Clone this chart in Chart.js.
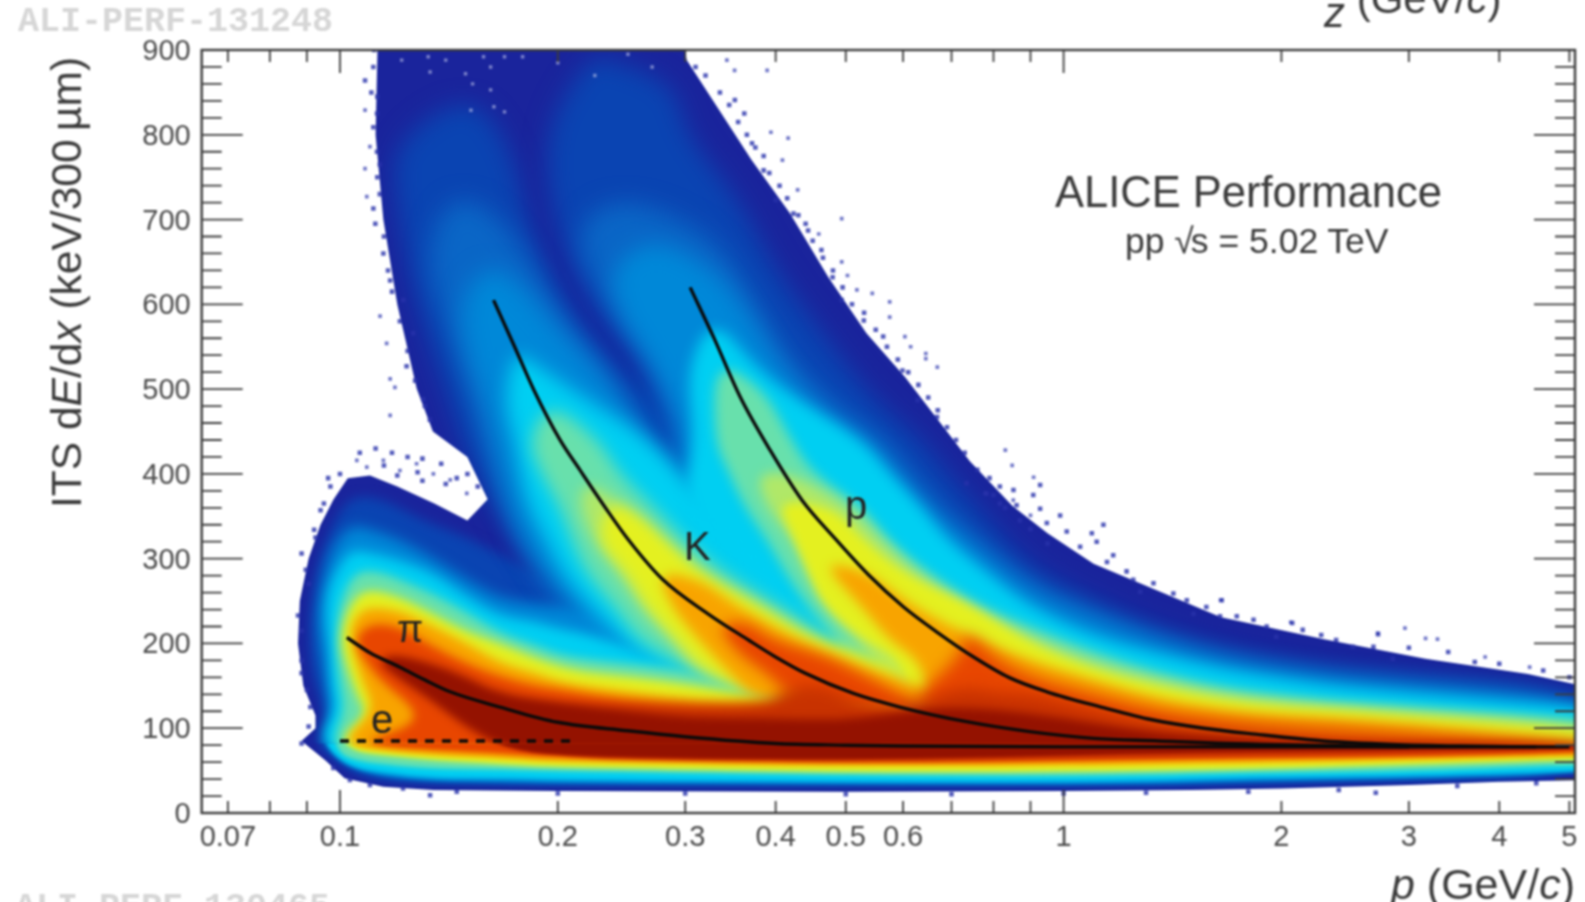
<!DOCTYPE html>
<html><head><meta charset="utf-8">
<style>
html,body{margin:0;padding:0;background:#fff;width:1585px;height:902px;overflow:hidden}
#wrap{position:relative;width:1585px;height:902px;overflow:hidden}
canvas{position:absolute;left:0;top:0;filter:blur(0.8px)}
.t{position:absolute;white-space:nowrap;font-family:"Liberation Sans",Arial,sans-serif;color:#3a3a3a;filter:blur(0.8px);line-height:1}
.m{font-family:"Liberation Mono",monospace;font-weight:bold;color:#d6d6d6;filter:blur(1px)}
</style>
<script src="https://cdn.jsdelivr.net/npm/chart.js@4"></script>
</head><body><div id="wrap">
<canvas id="c" width="1585" height="902"></canvas>
<div class="t m" style="left:18px;top:5px;font-size:35px">ALI-PERF-131248</div>
<div class="t m" style="left:15px;top:891px;font-size:35px">ALI-PERF-130465</div>
<div class="t" style="left:1324px;top:-22px;font-size:42px"><i style="text-decoration:overline;font-size:42px;position:relative;top:14px">z</i>&nbsp;(GeV/<i>c</i>)</div>
<div class="t" style="left:1055px;top:171px;font-size:43.5px">ALICE Performance</div>
<div class="t" style="left:1125px;top:224px;font-size:35.5px">pp <span style="letter-spacing:-3px">&radic;</span>s = 5.02 TeV</div>
<div class="t" style="left:46px;top:508px;font-size:42.5px;transform-origin:0 0;transform:rotate(-90deg)">ITS d<i>E</i>/d<i>x</i> (keV/300&#8201;&micro;m)</div>
<div class="t" style="right:10px;top:863px;font-size:43px"><i>p</i> (GeV/<i>c</i>)</div>
<div class="t" style="left:397px;top:610px;font-size:38px;color:#222">&pi;</div>
<div class="t" style="left:684px;top:526px;font-size:40px;color:#222">K</div>
<div class="t" style="left:845px;top:485px;font-size:40px;color:#222">p</div>
<div class="t" style="left:371px;top:699px;font-size:40px;color:#222">e</div>
</div>
<script>
// axis ticks
const xTickValues=[0.07,0.08,0.09,0.1,0.2,0.3,0.4,0.5,0.6,0.7,0.8,0.9,1,2,3,4,5];
const xTickLabels=['0.07','0.1','0.2','0.3','0.4','0.5','0.6','1','2','3','4','5'];
const xMajorTicks=[0.1,1];
const yMajorTicks=[0,100,200,300,400,500,600,700,800,900];
const yMinorTicks=[20,40,60,80,120,140,160,180,220,240,260,280,320,340,360,380,420,440,460,480,520,540,560,580,620,640,660,680,720,740,760,780,820,840,860,880];

// expected-response curves [p, dE/dx]
const curvePion=[[.1022,207],[.11,189],[.121,172],[.131,157],[.142,143],[.1664,125],[.2,107],[.25,97],[.3,90],[.4,82],[.5,80],[.6,79],[1,78],[2,78],[5,78]];
const curveKaon=[[.163,605],[.1743,550],[.1853,499],[.2014,440],[.2144,405],[.2323,361],[.2505,322],[.2788,276],[.3225,235],[.3669,204],[.3983,185],[.4393,165],[.5125,141],[.594,125],[.731,108],[.898,96],[1.1,88],[1.35,85],[1.67,82],[3,78]];
const curveProton=[[.3047,620],[.3284,561],[.3572,491],[.393,428],[.435,369],[.4806,326],[.5374,281],[.601,243],[.672,212],[.751,184],[.84,160],[.948,143],[1.127,125],[1.325,110],[1.563,100],[1.84,93],[2.29,85],[2.84,81],[3.53,79],[4.5,78]];
const lineElectron=[[.1,85],[.21,85]];

// population contours [p, dE/dx]
const envelope=[[.0885,85],[.0955,62],[.1015,41],[.1148,31],[.1346,27],[.2,26],[.5,25],[1,26],[1.5,27],[2,29],[3,33],[4,37],[5.5,39],[5.5,148],[5.09,152],[4.38,164],[3.16,182],[2.29,205],[1.65,231],[1.1,294],[.95,330],[.85,362],[.742,415],[.604,514],[.534,566],[.473,632],[.4188,707],[.3707,770],[.3015,888],[.29,950],[.113,950],[.112,800],[.1148,700],[.12,600],[.1277,500],[.1344,450],[.15,420],[.16,370],[.15,345],[.135,365],[.12,385],[.11,398],[.1025,395],[.098,370],[.094,340],[.0905,300],[.088,250],[.0875,200],[.089,150],[.0925,115],[.0925,100]];
const piBlue=[[.0925,82],[.098,62],[.105,45],[.115,37],[.135,33],[.2,31],[.5,31],[1.2,31],[1.84,33],[2.84,37],[5.5,43],[5.5,90],[1,130],[.5,150],[.25,230],[.17,300],[.15,325],[.13,345],[.115,370],[.104,375],[.098,345],[.093,290],[.091,230],[.091,170],[.0945,130],[.096,100]];
const kBlue=[[.15,850],[.1185,790],[.1195,723],[.1241,644],[.1315,566],[.1415,487],[.1485,428],[.16,380],[.18,300],[.25,150],[.33,150],[.33,440],[.2425,526],[.2109,585],[.1832,684],[.172,790]];
const pBlue=[[.22,890],[.2337,890],[.29,860],[.3,801],[.3565,723],[.397,644],[.4627,566],[.5467,487],[.6366,440],[.6902,401],[.7586,361],[.898,290],[1.1,251],[1.35,216],[1.67,192],[2.05,177],[2.52,165],[5.5,137],[5.5,78],[1,100],[.45,150],[.32,300],[.27,440],[.2623,526],[.228,585],[.1981,684],[.1905,801]];
const kMid=[[.149,731],[.1361,703],[.1319,644],[.142,566],[.1527,487],[.1597,428],[.17,361],[.1795,322],[.191,283],[.2098,243],[.25,160],[.36,160],[.345,340],[.31,389],[.275,428],[.2562,456],[.2314,526],[.2012,585],[.1748,684]];
const pMid=[[.2433,731],[.3283,684],[.3747,605],[.424,526],[.5,470],[.5618,440],[.6105,401],[.6665,361],[.731,325],[.898,262],[1.1,230],[1.35,202],[1.67,180],[2.05,167],[2.52,156],[5.5,130],[5.5,78],[1,100],[.45,150],[.33,330],[.30,389],[.295,428],[.2944,456],[.275,526],[.239,585],[.2076,684]];
const piSky=[[.0955,85],[.1,62],[.107,49],[.117,42],[.135,37],[.17,36],[.2,35],[.5,34],[1.2,34],[1.84,37],[2.84,40],[5.5,46],[5.5,95],[1,130],[.5,150],[.25,220],[.21,243],[.19,245],[.1664,252],[.1497,275],[.1346,300],[.121,322],[.11,335],[.1032,340],[.097,310],[.0945,270],[.093,232],[.094,192],[.096,153],[.0975,115]];
const kSky=[[.16,650],[.146,600],[.15,540],[.158,487],[.1645,428],[.172,361],[.1795,322],[.191,283],[.2098,243],[.25,160],[.36,160],[.345,340],[.31,389],[.275,428],[.262,456],[.225,526],[.2,570],[.18,620]];
const pSky=[[.27,680],[.33,640],[.365,590],[.405,526],[.47,470],[.54,440],[.59,401],[.65,361],[.731,325],[.898,262],[1.1,230],[1.35,202],[1.67,180],[2.05,167],[2.52,156],[5.5,130],[5.5,78],[1,100],[.45,150],[.33,330],[.30,389],[.295,428],[.295,456],[.272,526],[.245,585],[.235,640]];
const piCyan=[[.094,92],[.0985,121],[.097,153],[.097,192],[.0955,232],[.0965,270],[.103,310],[.109,308],[.121,298],[.1346,283],[.1497,255],[.1664,232],[.1845,226],[.2046,216],[.2268,208],[.2515,194],[.29,175],[.4,150],[1,130],[5.5,100],[5.5,48],[5.09,49],[2.84,43],[1.84,42],[1.2,37],[.5,37],[.2,39],[.17,41],[.135,41],[.115,47],[.105,53],[.098,67]];
const kCyan=[[.1743,546],[.1685,487],[.1745,440],[.1774,401],[.1825,361],[.1928,322],[.2028,283],[.2215,243],[.2435,208],[.2515,194],[.3,150],[.47,130],[.47,240],[.42,283],[.36,340],[.312,375],[.2682,440],[.22,487],[.1855,530]];
const pCyan=[[.3283,585],[.3013,526],[.3091,440],[.298,375],[.32,340],[.37,283],[.41,240],[.45,130],[1,100],[5.5,78],[5.5,122],[5.09,125],[2.52,147],[2.05,157],[1.67,169],[1.35,188],[1.1,208],[.898,243],[.7844,283],[.6902,322],[.6361,361],[.5742,401],[.5267,440],[.4294,487],[.3747,526]];
const piGreen=[[.098,90],[.1015,121],[.1,153],[.0985,200],[.1,250],[.105,285],[.113,285],[.121,275],[.1346,258],[.1497,236],[.1664,212],[.186,198],[.2046,184],[.2515,176],[.3,167],[.4,150],[1,130],[5.5,95],[5.5,56],[5.09,56.6],[2.84,49],[1.84,48],[1.2,44],[.6,44],[.2,49],[.17,51],[.135,52],[.115,57],[.105,62],[.1,70]];
const kGreen=[[.195,485],[.182,440],[.1895,401],[.2016,361],[.209,322],[.219,283],[.2403,243],[.2588,204],[.289,180],[.33,150],[.5,130],[.505,176],[.478,204],[.408,243],[.34,283],[.3,322],[.272,361],[.2425,401],[.228,440]];
const pGreen=[[.33,535],[.329,440],[.345,401],[.3625,361],[.39,322],[.413,283],[.444,243],[.484,204],[.49,176],[.5,130],[1,105],[5.5,78],[5.5,108],[5.09,110],[2.52,129],[2.05,137],[1.67,147],[1.35,165],[1.1,190],[.898,220],[.775,243],[.65,283],[.573,322],[.528,361],[.45,401],[.42,440],[.385,500]];
const kLime=[[.2171,393],[.2144,361],[.2238,322],[.2436,283],[.2615,243],[.2884,204],[.31,170],[.4,135],[.55,130],[.53,180],[.4478,204],[.3762,243],[.3125,283],[.2738,322],[.2515,361]];
const pLime=[[.3762,401],[.3883,361],[.4235,322],[.4436,283],[.4716,243],[.5154,204],[.55,180],[.6,130],[1,105],[5.5,78],[5.5,104],[2.52,125],[2.05,131],[1.67,140],[1.35,157],[1.1,178],[.898,208],[.7394,243],[.6266,283],[.5577,322],[.5068,361],[.4213,401]];
const piYellow=[[.1,88],[.1089,117],[.1057,137],[.1022,172],[.1,208],[.1032,247],[.1089,265],[.121,255],[.1346,235],[.1497,214],[.1664,200],[.2046,169],[.2515,161],[.3091,151],[.38,137],[1,110],[5.5,90],[5.5,62],[5.09,62.5],[2.84,56],[1.67,51],[.6,47],[.2,54],[.17,57],[.135,62],[.115,68],[.105,72]];
const kYellow=[[.236,368],[.2265,322],[.25,283],[.265,243],[.2925,204],[.32,165],[.4,135],[.62,125],[.6,165],[.538,185],[.45,204],[.383,243],[.315,283],[.282,322],[.26,350]];
const pYellow=[[.4,370],[.4257,322],[.444,283],[.467,243],[.53,204],[.58,185],[.6,165],[.62,125],[1,110],[5.5,78],[5.5,96],[5.09,98],[2.52,120],[2.05,125],[1.67,133],[1.35,149],[1.1,169],[.898,200],[.745,245],[.606,280],[.528,322],[.48,361]];
const piOrange=[[.102,89],[.112,121],[.1066,161],[.1032,208],[.1045,228],[.1089,243],[.121,239],[.1346,220],[.1497,200],[.1664,177],[.186,165],[.2046,153],[.2515,143],[.3091,133],[.38,129],[.6,120],[1,105],[5.5,85],[5.5,67],[5.09,68],[2.84,62],[1.67,58.6],[.6,54],[.2,60],[.17,64],[.135,68],[.115,73],[.105,78]];
const kOrange=[[.275,285],[.287,243],[.313,204],[.345,165],[.38,130],[.7,120],[.65,145],[.56,165],[.485,185],[.43,204],[.355,243],[.315,275]];
const pOrange=[[.4772,295],[.4772,283],[.5263,243],[.5742,204],[.6193,185],[.6405,165],[.65,140],[.7,120],[1.2,100],[5.5,78],[5.5,84],[5.09,86],[2.52,110],[2.05,114],[1.67,121],[1.35,135],[1.1,157],[.898,180],[.7617,204],[.6193,243],[.5397,283]];
const piRed=[[.108,84],[.125,102],[.1276,121],[.1148,153],[.1089,176],[.1045,204],[.11,224],[.121,220],[.1346,196],[.1497,176],[.1664,161],[.186,150],[.2046,145],[.2515,131],[.3091,124],[.38,120],[.449,120],[.8,108],[1.5,95],[5.5,82],[5.5,72],[5.09,72],[2.84,66],[1.67,64.5],[.6,59],[.2,65],[.17,70],[.135,74],[.115,78]];
const kRed=[[.335,222],[.343,204],[.36,184],[.388,165],[.41,145],[.45,125],[.66,118],[.62,133],[.525,165],[.47,185],[.395,204],[.365,226]];
const pRed=[[.72,210],[.731,196],[.68,165],[.62,135],[.66,118],[.8,105],[1.5,90],[5.5,78],[5.5,80],[5.09,80],[2.52,100],[2.05,104],[1.67,110],[1.35,121],[1.1,141],[.898,161],[.8,185],[.76,204]];
const piDeep=[[.2,130],[.38,124],[.42,150],[.467,150],[.52,130],[.6,124],[.659,137],[.731,149],[.81,141],[.898,141],[1.1,121],[1.35,106],[1.67,96],[2.05,90],[2.52,84],[5.5,80],[5.5,74],[2.52,68],[1.2,65],[.6,60],[.3,62],[.2,66],[.15,100]];
const piDark=[[.113,178],[.118,188],[.1346,176],[.1497,160],[.1664,141],[.2046,129],[.2515,120],[.3091,112],[.38,112],[.467,110],[.518,112],[.6366,122],[.731,125],[.898,118],[1.1,106],[1.35,94],[1.67,88],[2.05,84],[2.52,80],[5.5,79],[5.5,76],[2.52,73],[1.35,71],[.6,63],[.3,64],[.2,68],[.17,75],[.15,100],[.135,130],[.12,160]];

// sparse entries at the fuzzy edge of the population
const strayEntries=[[.3893,876],[.3425,888],[.351,876],[.394,803],[.4162,796],[.4087,770],[.429,735],[.4936,701],[.4588,683],[.4936,650],[.5027,634],[.518,617],[.544,613],[.575,603],[.575,585],[.6035,562],[.6146,550],[.645,542],[.645,536],[.669,526],[.1083,829],[.11,786],[.1083,760],[.1089,727],[.1136,586],[.116,554],[.1173,512],[.1191,502],[.1173,469],[.1055,416],[.1089,408],[.1148,416],[.121,404],[.1276,412],[.1346,400],[.142,393],[.1497,377],[1.648,251],[2.06,225],[2.717,212],[2.963,218],[3.164,206],[3.286,205],[3.824,184],[4.406,172],[.8307,428],[.849,410],[.909,396],[.7794,377],[.852,369],[.9,351]];
const edgeEntries=[[.7345,389],[.7826,377],[.8164,385],[.8525,381],[.908,375],[.928,387],[.8164,365],[.861,363],[.928,359],[.989,351],[.948,342],[1.01,332],[1.094,330],[1.135,340],[1.054,314],[1.111,320],[1.171,304],[1.148,296],[1.222,285],[1.248,275],[1.331,271],[1.276,261],[1.418,259],[1.48,251],[1.575,243],[1.654,251],[1.512,235],[1.645,232],[1.735,232],[1.83,228],[1.908,220],[2.07,224],[1.967,208],[2.14,216],[2.27,210],[2.38,204],[2.51,196],[2.72,211],[2.68,196],[2.85,182],
[.3513,841],[.362,825],[.371,790],[.385,758],[.4,723],[.4233,707],[.4435,687],[.4627,664],[.4795,632],[.4936,605],[.5295,581],[.5632,562],[.5988,522],[.6285,487],[.6684,467],
[.1112,880],[.1083,864],[.1126,845],[.1112,809],[.1126,750],[.1112,713],[.1119,695],[.1148,660],[.1173,628],[.1223,605],[.1262,566],[.1236,527],[.1303,488],[.1331,464],
[.0963,395],[.094,357],[.0921,334],[.0885,306],[.0897,287],[.0875,233],[.0885,180],[.09,145],[.0905,102],[.0885,82],[.0979,53],[.1032,39],[.11,33],[.1222,29],[.1332,21],[.145,25],
[.2,23],[.3,23],[.5,22],[.7,22],[1,23],[1.3,24],[1.8,25],[2.4,27],[2.7,24],[3.5,32],[4.5,35],
[.1065,425],[.112,430],[.118,425],[.124,420],[.13,418],[.138,412],[.145,395],[.14,388],[.13,392],[.12,398],[.128,402],[.115,410],[.155,385],[.15,400],
[.31,880],[.32,870],[.335,850],[.345,835],[.355,815],[.365,800],[.375,785],[.385,775],[.392,755],[.405,740],[.415,725],[.43,705],[.44,695],[.45,675],[.465,655],[.48,640],[.495,620],[.51,600],[.53,590],[.55,570],[.57,550],[.59,535],[.61,520],[.63,505],[.65,490],[.67,475],[.69,455],[.71,440],[.73,425],[.76,405],[.79,395],[.8,375],[.83,360],[.87,345],[.9,335],[.95,318],
[.1115,900],[.1105,850],[.1125,780],[.1135,730],[.115,680],[.1165,640],[.118,615],[.121,580],[.124,545],[.127,510],[.131,480],[.1135,765],[.1125,825],
[.1,400],[.097,385],[.095,365],[.0925,325],[.0905,270],[.0885,215],[.0885,165],[.091,125],
[3,195],[3.4,190],[3.7,178],[4,176],[4.6,168],[5,160]];
const gapEntries=[[.1217,888],[.1324,892],[.1332,874],[.14,888],[.1491,872],[.1517,829],[.1525,860],[.1579,892],[.1615,853],[.1615,880],[.1632,833],[.1688,892],[.1688,827],[.1788,892],[.25,895],[.27,880],[.2,885],[.225,870]];

const splitValue=82;
const levelStyles=[
 {polys:[[envelope,0.6]],color:'#1a249c'},
 {polys:[[piBlue,6,3],[kBlue,12],[pBlue,12]],color:'#0a44b2'},
 {polys:[[kMid,12],[pMid,12]],color:'#0a66c6'},
 {polys:[[piSky,7,2],[kSky,12],[pSky,11]],color:'#0088d8'},
 {polys:[[piCyan,6,2],[kCyan,9],[pCyan,7]],color:'#00cff2'},
 {polys:[[piGreen,5,2],[kGreen,8],[pGreen,6]],color:'#68e0ac'},
 {polys:[[kLime,7],[pLime,6]],color:'#b0e868'},
 {polys:[[piYellow,5,2],[kYellow,7],[pYellow,5]],color:'#e4f020'},
 {polys:[[piOrange,5,2],[kOrange,6],[pOrange,6]],color:'#f8a400'},
 {polys:[[piRed,5,2],[kRed,7],[pRed,8]],color:'#e84600'},
 {polys:[[piDeep,7,2]],color:'#c83200'},
 {polys:[[piDark,4,1.5]],color:'#941200'}
];
const xy=a=>a.map(([x,y])=>({x,y}));
const datasets=[];
levelStyles.forEach(l=>l.polys.forEach(([p,s,low])=>datasets.push({data:xy(p),region:l.color,soft:s,softLow:low,showLine:false,pointRadius:0})));
datasets.push({data:xy(strayEntries),showLine:false,pointStyle:'rect',pointRadius:2.6,backgroundColor:'rgba(50,60,175,.7)',borderWidth:0});
datasets.push({data:xy(edgeEntries),showLine:false,pointStyle:'rect',pointRadius:3.2,backgroundColor:'rgba(40,50,170,.8)',borderWidth:0});
datasets.push({data:xy(gapEntries),showLine:false,pointStyle:'rect',pointRadius:2.4,backgroundColor:'rgba(205,210,240,.55)',borderWidth:0});
[curvePion,curveKaon,curveProton].forEach(c=>datasets.push({data:xy(c),showLine:true,borderColor:'#0a0a0a',borderWidth:3.4,cubicInterpolationMode:'monotone',pointRadius:0}));
datasets.push({data:xy(lineElectron),showLine:true,borderColor:'#0a0a0a',borderWidth:3.4,borderDash:[9,8],pointRadius:0});
datasets.forEach((d,i)=>d.order=datasets.length-i);

function tracePath(ctx,pts,smooth){
  ctx.beginPath();
  if(!smooth){pts.forEach((p,i)=>i?ctx.lineTo(p.x,p.y):ctx.moveTo(p.x,p.y));ctx.closePath();return;}
  const n=pts.length,mid=(a,b)=>({x:(a.x+b.x)/2,y:(a.y+b.y)/2});
  const s=mid(pts[n-1],pts[0]);ctx.moveTo(s.x,s.y);
  for(let i=0;i<n;i++){const m=mid(pts[i],pts[(i+1)%n]);ctx.quadraticCurveTo(pts[i].x,pts[i].y,m.x,m.y);}
  ctx.closePath();
}
let outline=null;
const regionPlugin={id:'region',beforeDatasetDraw(chart,args){
  const d=args.meta._dataset; if(!d.region) return;
  const {ctx,chartArea:a,scales:{y}}=chart;
  const pass=(top,bottom,soft)=>{
    ctx.save();ctx.beginPath();ctx.rect(a.left,top,a.right-a.left,bottom-top);ctx.clip();
    if(outline){tracePath(ctx,outline,false);ctx.clip();}
    ctx.filter=`blur(${soft}px)`;ctx.fillStyle=d.region;
    tracePath(ctx,args.meta.data,soft>1);ctx.fill();ctx.restore();
  };
  if(d.softLow){const s=y.getPixelForValue(splitValue);pass(a.top,s,d.soft);pass(s,a.bottom,d.softLow);}
  else pass(a.top,a.bottom,d.soft);
  if(!outline) outline=args.meta.data;
  return false;
}};
const framePlugin={id:'frame',afterDatasetsDraw(chart){
  const {ctx,chartArea:a,scales:{x,y}}=chart;
  ctx.save();ctx.strokeStyle='#3c3c3c';
  ctx.lineWidth=1.8;ctx.beginPath();
  xTickValues.forEach(v=>{const px=x.getPixelForValue(v),l=xMajorTicks.includes(v)?23:12;
    ctx.moveTo(px,a.bottom);ctx.lineTo(px,a.bottom-l);ctx.moveTo(px,a.top);ctx.lineTo(px,a.top+l);});
  yMajorTicks.forEach(v=>{const py=y.getPixelForValue(v);
    ctx.moveTo(a.left,py);ctx.lineTo(a.left+41,py);ctx.moveTo(a.right,py);ctx.lineTo(a.right-41,py);});
  yMinorTicks.forEach(v=>{const py=y.getPixelForValue(v);
    ctx.moveTo(a.left,py);ctx.lineTo(a.left+20,py);ctx.moveTo(a.right,py);ctx.lineTo(a.right-20,py);});
  ctx.stroke();
  ctx.lineWidth=2.4;ctx.strokeRect(a.left,a.top,a.right-a.left,a.bottom-a.top);
  ctx.restore();
}};
new Chart(document.getElementById('c'),{
 type:'scatter',
 data:{datasets},
 plugins:[regionPlugin,framePlugin],
 options:{responsive:false,animation:false,
  layout:{padding:{top:50,right:10,left:0,bottom:0}},
  plugins:{legend:{display:false},tooltip:{enabled:false},title:{display:false}},
  scales:{
   x:{type:'logarithmic',min:0.0644,max:5.09,
     afterBuildTicks:s=>{s.ticks=xTickValues.map(v=>({value:v}))},
     afterFit:s=>{s.height=89},
     grid:{display:false},border:{display:false},
     ticks:{autoSkip:false,maxRotation:0,padding:0,color:'#4a4a4a',font:{family:'"Liberation Sans"',size:29},
       callback:v=>xTickLabels.includes(String(v))?String(v):''}},
   y:{type:'linear',min:0,max:900,
     afterBuildTicks:s=>{s.ticks=yMajorTicks.map(v=>({value:v}))},
     afterFit:s=>{s.width=201.7},
     grid:{display:false},border:{display:false},
     ticks:{autoSkip:false,padding:3,labelOffset:2,color:'#4a4a4a',font:{family:'"Liberation Sans"',size:29}}}
  }}
});
</script></body></html>
